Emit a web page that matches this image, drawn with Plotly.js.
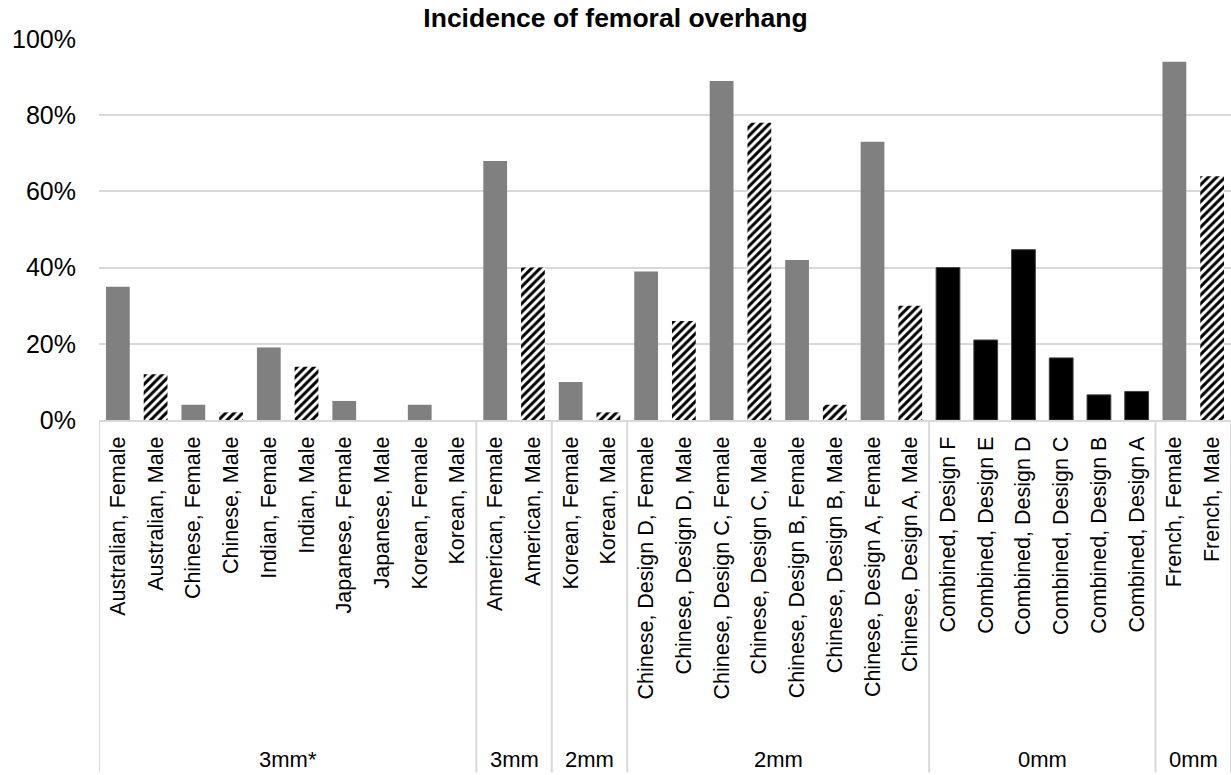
<!DOCTYPE html>
<html>
<head>
<meta charset="utf-8">
<script src="https://cdn.plot.ly/plotly-3.0.1.min.js"></script>
<style>
  html, body { margin: 0; padding: 0; background: #ffffff; }
  #chart { width: 1231px; height: 775px; }
</style>
</head>
<body>
<div id="chart"></div>
<script>
// Category labels, one per bar (left to right)
const categories = [
  "Australian, Female", "Australian, Male",
  "Chinese, Female", "Chinese, Male",
  "Indian, Female", "Indian, Male",
  "Japanese, Female", "Japanese, Male",
  "Korean, Female", "Korean, Male",
  "American, Female", "American, Male",
  "Korean, Female", "Korean, Male",
  "Chinese, Design D, Female", "Chinese, Design D, Male",
  "Chinese, Design C, Female", "Chinese, Design C, Male",
  "Chinese, Design B, Female", "Chinese, Design B, Male",
  "Chinese, Design A, Female", "Chinese, Design A, Male",
  "Combined, Design F", "Combined, Design E", "Combined, Design D",
  "Combined, Design C", "Combined, Design B", "Combined, Design A",
  "French, Female", "French, Male"
];

// Incidence of overhang, in percent
const incidence = [
  35, 12,
  4, 2,
  19, 14,
  5, 0,
  4, 0,
  68, 40,
  10, 2,
  39, 26,
  89, 78,
  42, 4,
  73, 30,
  40, 21, 44.7, 16.3, 6.6, 7.5,
  94, 64
];

// Outer grouping of the category axis
const groupNames = ["3mm*", "3mm", "2mm", "2mm", "0mm", "0mm"];
const groupSizes = [10, 2, 2, 8, 6, 2];

const FONT = "Liberation Sans, Arial, Helvetica, sans-serif";
const GRID = "#d9d9d9";

const idx = categories.map((_, i) => i);
const kindOf = lbl => lbl.endsWith("Female") ? "female" : (lbl.endsWith("Male") ? "male" : "combined");

function seriesFor(kind) {
  return incidence.map((v, i) => kindOf(categories[i]) === kind ? v / 100 : null);
}

const traces = [
  {
    type: "bar", name: "Female", x: idx, y: seriesFor("female"),
    marker: { color: "#808080", line: { width: 0 } },
    hoverinfo: "skip"
  },
  {
    type: "bar", name: "Male", x: idx, y: seriesFor("male"),
    marker: {
      color: "#ffffff",
      line: { width: 0 },
      pattern: {
        shape: "/", fillmode: "replace",
        fgcolor: "#000000", bgcolor: "#ffffff", fgopacity: 1,
        size: 6, solidity: 0.5
      }
    },
    hoverinfo: "skip"
  },
  {
    type: "bar", name: "Combined", x: idx, y: seriesFor("combined"),
    marker: { color: "#000000", line: { width: 1, color: "#404040" } },
    hoverinfo: "skip"
  }
];

// Group dividers and group labels under the category labels
const shapes = [];
const annotations = [];
const labelDepth = -0.925;
let start = 0;
shapes.push({
  type: "line", xref: "x", yref: "paper", x0: -0.5, x1: -0.5, y0: 0, y1: labelDepth,
  line: { color: GRID, width: 2 }, layer: "above"
});
groupNames.forEach((name, g) => {
  const end = start + groupSizes[g];
  shapes.push({
    type: "line", xref: "x", yref: "paper", x0: end - 0.5, x1: end - 0.5, y0: 0, y1: labelDepth,
    line: { color: GRID, width: 2 }, layer: "above"
  });
  annotations.push({
    xref: "x", yref: "paper", x: (start + end - 1) / 2, y: -0.891,
    text: name, showarrow: false, xanchor: "center", yanchor: "middle",
    font: { family: FONT, size: 22, color: "#000000" }
  });
  start = end;
});

const layout = {
  width: 1231, height: 775,
  paper_bgcolor: "#ffffff", plot_bgcolor: "#ffffff",
  margin: { l: 99, r: 0, t: 38.5, b: 355, pad: 0 },
  showlegend: false,
  barmode: "overlay",
  bargap: 0.37,
  title: {
    text: "<b>Incidence of femoral overhang</b>",
    font: { family: FONT, size: 26.5, color: "#000000" },
    xref: "container", x: 0.5, xanchor: "center",
    yref: "container", y: 1 - 18 / 775, yanchor: "middle"
  },
  xaxis: {
    type: "linear",
    range: [-0.5, 29.5],
    tickvals: idx,
    ticktext: categories,
    tickangle: -90,
    ticks: "",
    ticklabelstandoff: 6,
    showgrid: false,
    zeroline: false,
    showline: true, linecolor: GRID, linewidth: 2,
    tickfont: { family: FONT, size: 21.5, color: "#000000" },
    fixedrange: true
  },
  yaxis: {
    range: [0, 1],
    tickvals: [0, 0.2, 0.4, 0.6, 0.8, 1.0],
    tickformat: ".0%",
    ticks: "",
    ticklabelstandoff: 22,
    showgrid: true, gridcolor: GRID, gridwidth: 2,
    zeroline: false,
    showline: false,
    tickfont: { family: FONT, size: 25, color: "#000000" },
    fixedrange: true
  },
  shapes: shapes,
  annotations: annotations
};

Plotly.newPlot("chart", traces, layout, { staticPlot: true, displayModeBar: false });
</script>
</body>
</html>
